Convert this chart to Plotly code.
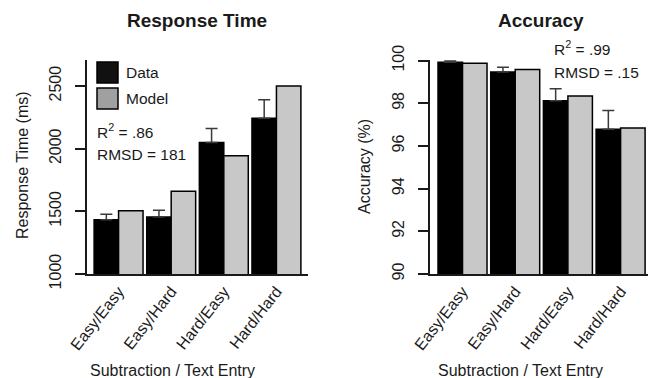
import plotly.graph_objects as go

categories = ["Easy/Easy", "Easy/Hard", "Hard/Easy", "Hard/Hard"]

rt_data = [1432, 1455, 2050, 2243]
rt_data_err = [44, 53, 112, 147]
rt_model = [1505, 1660, 1944, 2500]

acc_data = [99.93, 99.47, 98.12, 96.78]
acc_data_err = [0.05, 0.22, 0.56, 0.88]
acc_model = [99.88, 99.58, 98.34, 96.84]

rt_ticks = [1000, 1500, 2000, 2500]
acc_ticks = [90, 92, 94, 96, 98, 100]

W, H = 649, 378
FONT = "Liberation Sans, Arial, sans-serif"
TXT = "#1a1a1a"
GRAY = "#c8c8c8"

def px(x):
    return x / W

def py(y):
    return 1 - y / H

xpos = list(range(len(categories)))

fig = go.Figure()

def add_panel(xa, ya, data, err, model):
    fig.add_trace(go.Bar(
        x=xpos, y=data, name="Data", xaxis=xa, yaxis=ya,
        marker=dict(color="#000000", line=dict(color="#000000", width=1.5)),
        error_y=dict(type="data", symmetric=False, array=err,
                     arrayminus=[0] * len(err), color="#3a3a3a",
                     thickness=1.5, width=6),
        showlegend=False, offsetgroup="d"))
    fig.add_trace(go.Bar(
        x=xpos, y=model, name="Model", xaxis=xa, yaxis=ya,
        marker=dict(color=GRAY, line=dict(color="#000000", width=1.5)),
        showlegend=False, offsetgroup="m"))

add_panel("x", "y", rt_data, rt_data_err, rt_model)
add_panel("x2", "y2", acc_data, acc_data_err, acc_model)

axis_common = dict(showline=True, linecolor="#1a1a1a", linewidth=1.5,
                   showgrid=False, zeroline=False, automargin=False,
                   tickfont=dict(family=FONT, size=16, color=TXT))

fig.update_layout(
    width=W, height=H,
    margin=dict(l=0, r=0, t=0, b=0),
    paper_bgcolor="white", plot_bgcolor="white",
    barmode="group", bargap=0.07, bargroupgap=0,
    font=dict(family=FONT, color=TXT),
    xaxis=dict(domain=[px(87), px(308)], range=[-0.6, 3.6],
               tickvals=xpos, ticktext=categories, ticks="",
               tickangle=-52, anchor="y", **axis_common),
    yaxis=dict(domain=[py(274), py(60)], range=[1000, 2708],
               tickvals=rt_ticks, ticks="outside", ticklen=10,
               tickwidth=1.5, tickcolor="#1a1a1a", tickangle=-90,
               ticklabelstandoff=8, anchor="x", **axis_common),
    xaxis2=dict(domain=[px(430), px(648)], range=[-0.617, 3.52],
                tickvals=xpos, ticktext=categories, ticks="",
                tickangle=-52, anchor="y2", **axis_common),
    yaxis2=dict(domain=[py(274), py(60)], range=[90, 100.03],
                tickvals=acc_ticks, ticks="outside", ticklen=10,
                tickwidth=1.5, tickcolor="#1a1a1a", tickangle=-90,
                ticklabelstandoff=8, anchor="x2", **axis_common),
)

ann = []
def text(x, y, s, size=15.5, bold=False, angle=0, xanchor="center"):
    ann.append(dict(x=px(x), y=py(y), xref="paper", yref="paper",
                    text=f"<b>{s}</b>" if bold else s, showarrow=False,
                    textangle=angle, xanchor=xanchor, yanchor="middle",
                    font=dict(family=FONT, size=size, color=TXT)))

text(197, 20, "Response Time", size=19, bold=True)
text(541, 20, "Accuracy", size=19, bold=True)
text(22, 165, "Response Time (ms)", size=16, angle=-90)
text(364, 167, "Accuracy (%)", size=16, angle=-90)
text(172, 370, "Subtraction / Text Entry", size=16)
text(520, 370, "Subtraction / Text Entry", size=16)
text(124, 72, "Data", xanchor="left")
text(124, 99, "Model", xanchor="left")
text(95, 131, "R<sup>2</sup> = .86", xanchor="left")
text(95, 155, "RMSD = 181", xanchor="left")
text(552, 48, "R<sup>2</sup> = .99", xanchor="left")
text(552, 72, "RMSD = .15", xanchor="left")

shapes = [
    dict(type="rect", xref="paper", yref="paper", x0=px(97), x1=px(118),
         y0=py(83), y1=py(62), fillcolor="#111111",
         line=dict(color="#000000", width=1.5)),
    dict(type="rect", xref="paper", yref="paper", x0=px(97), x1=px(118),
         y0=py(109), y1=py(88), fillcolor="#a0a0a0",
         line=dict(color="#000000", width=1.5)),
]

fig.update_layout(annotations=ann, shapes=shapes)
fig.write_html("out.html", config={"displayModeBar": False},
               post_script="document.body.style.margin='0';"
                           "document.body.style.padding='0';")
